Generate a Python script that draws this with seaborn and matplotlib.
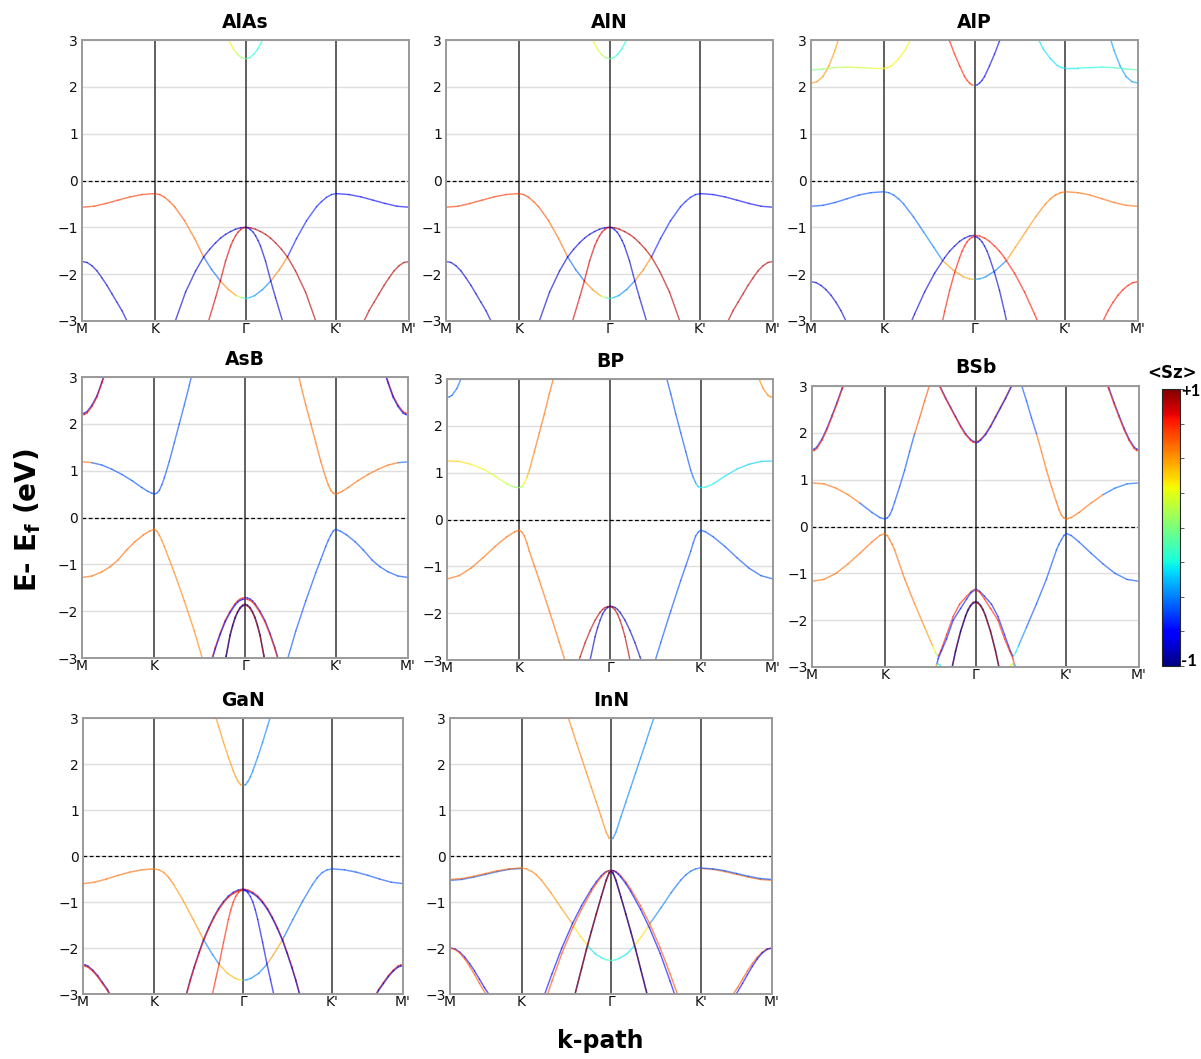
import numpy as np
import matplotlib
matplotlib.use("Agg")
import matplotlib.pyplot as plt
import seaborn as sns
from matplotlib.collections import LineCollection
from matplotlib.colors import Normalize
from matplotlib.cm import ScalarMappable

# ---------------------------------------------------------------- k-path
K_LABELS = ["M", "K", "Γ", "K'", "M'"]
K_TICKS = [0.0, 0.727, 1.637, 2.547, 3.273]
ANCHOR = {"M": 0.0, "K": 0.727, "G": 1.637, "Kp": 2.547, "Mp": 3.273}
E_TICKS = [-3, -2, -1, 0, 1, 2, 3]
DK_MK7 = [0, 0.12, 0.24, 0.36, 0.48, 0.60, 0.727]
DK_MK8 = [0, 0.12, 0.24, 0.36, 0.48, 0.60, 0.68, 0.727]
# piece = (anchor point, direction, k-offsets from anchor, energies, <Sz>, energy split)

# ---------------------------------------------------------------- AlAs / AlN
ALAS_CB_DK = [0, 0.04, 0.08, 0.12, 0.17, 0.2]
ALAS_CB_E = [2.60, 2.62, 2.69, 2.80, 3.0, 3.15]
ALAS_VB_MK_E = [-0.57, -0.55, -0.49, -0.42, -0.35, -0.30, -0.28]
ALAS_VB_KG_DK = [0, 0.05, 0.1, 0.15, 0.2, 0.3, 0.4, 0.49, 0.57, 0.66, 0.74, 0.82, 0.87, 0.91]
ALAS_VB_KG_E = [-0.28, -0.30, -0.36, -0.45, -0.56, -0.86, -1.24, -1.63, -1.90, -2.15, -2.33, -2.46, -2.50, -2.52]
ALAS_VB_SZ_L = [0.7, 0.7, 0.65, 0.65, 0.65, 0.6, 0.6, -0.55, -0.55, 0.55, 0.5, 0.15, -0.1, -0.1]
ALAS_VB_SZ_R = [-0.7, -0.7, -0.7, -0.7, -0.7, -0.7, -0.7, 0.55, 0.55, -0.5, -0.5, -0.4, -0.3, -0.3]
ALAS_WIDE_DK = [0, 0.05, 0.1, 0.15, 0.2, 0.25, 0.3, 0.36, 0.42, 0.5, 0.6, 0.703, 0.76]
ALAS_WIDE_E = [-1.0, -1.01, -1.04, -1.09, -1.15, -1.23, -1.33, -1.47, -1.635, -1.93, -2.38, -3.0, -3.35]
ALAS_NAR_DK = [0, 0.025, 0.05, 0.075, 0.1, 0.125, 0.15, 0.2, 0.253, 0.3, 0.37, 0.42]
ALAS_NAR_E = [-1.0, -1.01, -1.05, -1.10, -1.18, -1.28, -1.40, -1.72, -2.15, -2.50, -3.0, -3.35]
ALAS_MDN_DK = [0, 0.05, 0.1, 0.15, 0.2, 0.25, 0.3, 0.35, 0.4, 0.45, 0.5]
ALAS_MDN_E = [-1.73, -1.75, -1.82, -1.93, -2.08, -2.24, -2.42, -2.60, -2.78, -3.0, -3.25]

ALAS = [
    ("G", -1, ALAS_CB_DK, ALAS_CB_E, [0.05, 0.1, 0.2, 0.3, 0.3, 0.3]),
    ("G", +1, ALAS_CB_DK, ALAS_CB_E, [-0.15, -0.2, -0.25, -0.25, -0.25, -0.25]),
    ("M", +1, DK_MK7, ALAS_VB_MK_E, 0.7),
    ("K", +1, ALAS_VB_KG_DK, ALAS_VB_KG_E, ALAS_VB_SZ_L),
    ("Kp", -1, ALAS_VB_KG_DK, ALAS_VB_KG_E, ALAS_VB_SZ_R),
    ("Mp", -1, DK_MK7, ALAS_VB_MK_E, -0.75),
    ("G", -1, ALAS_WIDE_DK, ALAS_WIDE_E, -0.85),
    ("G", +1, ALAS_WIDE_DK, ALAS_WIDE_E, 0.9),
    ("G", -1, ALAS_NAR_DK, ALAS_NAR_E, 0.85),
    ("G", +1, ALAS_NAR_DK, ALAS_NAR_E, -0.85),
    ("M", +1, ALAS_MDN_DK, ALAS_MDN_E, -0.85),
    ("Mp", -1, ALAS_MDN_DK, ALAS_MDN_E, 0.9),
]
ALN = list(ALAS)

# ---------------------------------------------------------------- AlP
ALP_CM_DK = [0, 0.06, 0.12, 0.18, 0.24, 0.28, 0.31]
ALP_CM_E = [2.08, 2.11, 2.22, 2.45, 2.78, 3.05, 3.2]
ALP_FLAT_E = [2.36, 2.38, 2.41, 2.42, 2.41, 2.40, 2.40]
ALP_FLAT_SZ_L = [0.0, 0.1, 0.15, 0.2, 0.2, 0.25, 0.3]
ALP_FLAT_SZ_R = [-0.1, -0.15, -0.2, -0.25, -0.25, -0.3, -0.3]
ALP_KUP_DK = [0, 0.04, 0.08, 0.15, 0.22, 0.28, 0.32]
ALP_KUP_E = [2.40, 2.41, 2.45, 2.60, 2.80, 3.05, 3.25]
ALP_GC_DK = [0, 0.025, 0.05, 0.075, 0.1, 0.15, 0.2, 0.25, 0.28]
ALP_GC_E = [2.03, 2.04, 2.08, 2.14, 2.22, 2.45, 2.70, 2.98, 3.15]
ALP_VB_MK_E = [-0.55, -0.53, -0.47, -0.39, -0.31, -0.26, -0.24]
ALP_VB_KG_DK = [0, 0.05, 0.1, 0.15, 0.2, 0.3, 0.4, 0.5, 0.59, 0.7, 0.8, 0.86, 0.91]
ALP_VB_KG_E = [-0.24, -0.26, -0.31, -0.39, -0.50, -0.78, -1.10, -1.42, -1.71, -1.92, -2.06, -2.10, -2.11]
ALP_VB_SZ_L = [-0.55, -0.55, -0.55, -0.55, -0.55, -0.55, -0.5, -0.5, 0.5, 0.5, 0.45, 0.45, 0.45]
ALP_VB_SZ_R = [0.6, 0.6, 0.6, 0.55, 0.55, 0.5, 0.5, 0.5, -0.5, -0.5, -0.45, -0.45, -0.45]
ALP_WIDE_DK = [0, 0.05, 0.1, 0.15, 0.2, 0.25, 0.3, 0.4, 0.5, 0.6, 0.63, 0.68]
ALP_WIDE_E = [-1.17, -1.185, -1.23, -1.30, -1.40, -1.51, -1.65, -1.98, -2.38, -2.85, -3.0, -3.3]
ALP_NAR_DK = [0, 0.025, 0.05, 0.075, 0.1, 0.125, 0.15, 0.2, 0.25, 0.3, 0.32, 0.36]
ALP_NAR_E = [-1.20, -1.21, -1.25, -1.31, -1.40, -1.51, -1.65, -1.97, -2.35, -2.80, -3.0, -3.3]
ALP_MDN_DK = [0, 0.05, 0.1, 0.15, 0.2, 0.25, 0.3, 0.35, 0.4]
ALP_MDN_E = [-2.16, -2.18, -2.24, -2.33, -2.45, -2.60, -2.78, -3.0, -3.25]

ALP = [
    ("M", +1, ALP_CM_DK, ALP_CM_E, 0.5),
    ("Mp", -1, ALP_CM_DK, ALP_CM_E, -0.45),
    ("M", +1, DK_MK7, ALP_FLAT_E, ALP_FLAT_SZ_L),
    ("K", +1, ALP_KUP_DK, ALP_KUP_E, 0.3),
    ("Mp", -1, DK_MK7, ALP_FLAT_E, ALP_FLAT_SZ_R),
    ("Kp", -1, ALP_KUP_DK, ALP_KUP_E, -0.3),
    ("G", -1, ALP_GC_DK, ALP_GC_E, [0.5, 0.75, 0.75, 0.75, 0.75, 0.75, 0.75, 0.75, 0.75]),
    ("G", +1, ALP_GC_DK, ALP_GC_E, [-0.6, -0.8, -0.8, -0.8, -0.8, -0.8, -0.8, -0.8, -0.8]),
    ("M", +1, DK_MK7, ALP_VB_MK_E, -0.6),
    ("K", +1, ALP_VB_KG_DK, ALP_VB_KG_E, ALP_VB_SZ_L),
    ("Kp", -1, ALP_VB_KG_DK, ALP_VB_KG_E, ALP_VB_SZ_R),
    ("Mp", -1, DK_MK7, ALP_VB_MK_E, 0.6),
    ("G", -1, ALP_WIDE_DK, ALP_WIDE_E, -0.85),
    ("G", +1, ALP_WIDE_DK, ALP_WIDE_E, 0.78),
    ("G", -1, ALP_NAR_DK, ALP_NAR_E, 0.78),
    ("G", +1, ALP_NAR_DK, ALP_NAR_E, -0.85),
    ("M", +1, ALP_MDN_DK, ALP_MDN_E, -0.85),
    ("Mp", -1, ALP_MDN_DK, ALP_MDN_E, 0.78),
]

# ---------------------------------------------------------------- AsB
ASB_MUP_DK = [0, 0.025, 0.05, 0.1, 0.15, 0.2, 0.23]
ASB_MUP_E = [2.22, 2.23, 2.26, 2.40, 2.60, 2.90, 3.1]
ASB_CB_MK_DK = [0, 0.1, 0.2, 0.3, 0.4, 0.5, 0.6, 0.66, 0.7, 0.727]
ASB_CB_MK_E = [1.19, 1.17, 1.12, 1.03, 0.92, 0.79, 0.64, 0.56, 0.52, 0.50]
ASB_CB_SZ_L = [0.6, -0.6, -0.6, -0.6, -0.6, -0.6, -0.6, -0.6, -0.6, -0.6]
ASB_CB_SZ_R = [-0.55, 0.6, 0.6, 0.6, 0.6, 0.6, 0.6, 0.6, 0.6, 0.6]
ASB_KUP_DK = [0, 0.025, 0.05, 0.075, 0.1, 0.15, 0.2, 0.25, 0.3, 0.35, 0.37, 0.40]
ASB_KUP_E = [0.50, 0.52, 0.58, 0.70, 0.85, 1.20, 1.60, 2.00, 2.40, 2.82, 3.0, 3.25]
ASB_VB_MK_DK = [0, 0.1, 0.2, 0.283, 0.36, 0.45, 0.53, 0.617, 0.68, 0.727]
ASB_VB_MK_E = [-1.28, -1.25, -1.16, -1.05, -0.91, -0.69, -0.52, -0.37, -0.29, -0.25]
ASB_KDN_DK = [0, 0.025, 0.05, 0.075, 0.1, 0.15, 0.2, 0.3, 0.4, 0.48, 0.52]
ASB_KDN_E = [-0.25, -0.29, -0.38, -0.49, -0.62, -0.90, -1.18, -1.78, -2.42, -3.0, -3.3]
ASB_GW_DK = [0, 0.025, 0.05, 0.075, 0.1, 0.15, 0.2, 0.25, 0.3, 0.33, 0.37]
ASB_GW_E = [-1.71, -1.72, -1.74, -1.78, -1.84, -2.0, -2.2, -2.47, -2.78, -3.0, -3.3]
ASB_GN_DK = [0, 0.025, 0.05, 0.075, 0.1, 0.125, 0.15, 0.19, 0.21]
ASB_GN_E = [-1.85, -1.87, -1.92, -2.01, -2.13, -2.30, -2.5, -2.95, -3.2]

ASB = [
    ("M", +1, ASB_MUP_DK, ASB_MUP_E, -0.8),
    ("M", +1, ASB_MUP_DK, ASB_MUP_E, 0.8, -0.03),
    ("Mp", -1, ASB_MUP_DK, ASB_MUP_E, 0.8),
    ("Mp", -1, ASB_MUP_DK, ASB_MUP_E, -0.8, -0.03),
    ("M", +1, ASB_CB_MK_DK, ASB_CB_MK_E, ASB_CB_SZ_L),
    ("K", +1, ASB_KUP_DK, ASB_KUP_E, -0.6),
    ("Kp", -1, ASB_KUP_DK, ASB_KUP_E, 0.6),
    ("Mp", -1, ASB_CB_MK_DK, ASB_CB_MK_E, ASB_CB_SZ_R),
    ("M", +1, ASB_VB_MK_DK, ASB_VB_MK_E, 0.6),
    ("K", +1, ASB_KDN_DK, ASB_KDN_E, 0.55),
    ("Kp", -1, ASB_KDN_DK, ASB_KDN_E, -0.6),
    ("Mp", -1, ASB_VB_MK_DK, ASB_VB_MK_E, -0.6),
    ("G", -1, ASB_GW_DK, ASB_GW_E, 0.75),
    ("G", +1, ASB_GW_DK, ASB_GW_E, -0.75),
    ("G", -1, ASB_GW_DK, ASB_GW_E, -0.75, -0.03),
    ("G", +1, ASB_GW_DK, ASB_GW_E, 0.75, -0.03),
    ("G", -1, ASB_GN_DK, ASB_GN_E, 0.95),
    ("G", +1, ASB_GN_DK, ASB_GN_E, -0.95),
    ("G", -1, ASB_GN_DK, ASB_GN_E, -0.95, -0.02),
    ("G", +1, ASB_GN_DK, ASB_GN_E, 0.95, -0.02),
]

# ---------------------------------------------------------------- BP
BP_MUP_DK = [0, 0.025, 0.05, 0.1, 0.14, 0.17]
BP_MUP_E = [2.61, 2.62, 2.65, 2.80, 3.0, 3.15]
BP_CB_MK_E = [1.25, 1.24, 1.18, 1.08, 0.93, 0.76, 0.69, 0.68]
BP_CB_SZ_L = [0.4, 0.35, 0.3, 0.25, 0.2, 0.1, 0.05, 0.05]
BP_CB_SZ_R = [-0.35, -0.35, -0.35, -0.3, -0.3, -0.25, -0.25, -0.25]
BP_KUP_DK = [0, 0.025, 0.05, 0.075, 0.1, 0.15, 0.2, 0.25, 0.3, 0.34, 0.37]
BP_KUP_E = [0.68, 0.70, 0.78, 0.90, 1.05, 1.45, 1.85, 2.25, 2.68, 3.0, 3.25]
BP_KUP_SZ_L = [0.05, 0.2, 0.3, 0.45, 0.55, 0.6, 0.6, 0.6, 0.6, 0.6, 0.6]
BP_KUP_SZ_R = [-0.3, -0.4, -0.5, -0.55, -0.6, -0.6, -0.6, -0.6, -0.6, -0.6, -0.6]
BP_VB_MK_E = [-1.27, -1.20, -1.04, -0.82, -0.58, -0.37, -0.26, -0.23]
BP_KDN_DK = [0, 0.025, 0.05, 0.075, 0.1, 0.15, 0.2, 0.3, 0.4, 0.455, 0.5]
BP_KDN_E = [-0.23, -0.27, -0.35, -0.50, -0.68, -0.99, -1.30, -1.95, -2.62, -3.0, -3.3]
BP_GW_DK = [0, 0.025, 0.05, 0.075, 0.1, 0.15, 0.2, 0.25, 0.3, 0.32, 0.35]
BP_GW_E = [-1.85, -1.86, -1.88, -1.92, -1.98, -2.15, -2.37, -2.63, -2.93, -3.05, -3.25]
BP_GN_DK = [0, 0.025, 0.05, 0.075, 0.1, 0.125, 0.15, 0.2, 0.22]
BP_GN_E = [-1.86, -1.88, -1.93, -2.02, -2.15, -2.31, -2.5, -3.0, -3.2]

BP = [
    ("M", +1, BP_MUP_DK, BP_MUP_E, -0.55),
    ("Mp", -1, BP_MUP_DK, BP_MUP_E, 0.55),
    ("M", +1, DK_MK8, BP_CB_MK_E, BP_CB_SZ_L),
    ("K", +1, BP_KUP_DK, BP_KUP_E, BP_KUP_SZ_L),
    ("Kp", -1, BP_KUP_DK, BP_KUP_E, BP_KUP_SZ_R),
    ("Mp", -1, DK_MK8, BP_CB_MK_E, BP_CB_SZ_R),
    ("M", +1, DK_MK8, BP_VB_MK_E, 0.6),
    ("K", +1, BP_KDN_DK, BP_KDN_E, 0.6),
    ("Kp", -1, BP_KDN_DK, BP_KDN_E, -0.6),
    ("Mp", -1, DK_MK8, BP_VB_MK_E, -0.6),
    ("G", -1, BP_GW_DK, BP_GW_E, 0.9),
    ("G", +1, BP_GW_DK, BP_GW_E, -0.9),
    ("G", -1, BP_GN_DK, BP_GN_E, -0.9),
    ("G", +1, BP_GN_DK, BP_GN_E, 0.9),
]

# ---------------------------------------------------------------- BSb
BSB_MUP_DK = [0, 0.025, 0.05, 0.1, 0.15, 0.2, 0.25, 0.3, 0.32, 0.35]
BSB_MUP_E = [1.64, 1.655, 1.70, 1.87, 2.10, 2.37, 2.65, 2.95, 3.05, 3.2]
BSB_CB_MK_E = [0.93, 0.91, 0.82, 0.68, 0.50, 0.30, 0.19, 0.16]
BSB_CB_SZ_L = [0.6, 0.6, 0.6, 0.6, -0.6, -0.6, -0.6, -0.6]
BSB_CB_SZ_R = [-0.55, -0.55, -0.55, 0.6, 0.6, 0.6, 0.6, 0.6]
BSB_KUP_DK = [0, 0.025, 0.05, 0.075, 0.1, 0.15, 0.2, 0.25, 0.3, 0.35, 0.4, 0.447, 0.48]
BSB_KUP_E = [0.16, 0.18, 0.24, 0.36, 0.52, 0.85, 1.20, 1.60, 1.98, 2.32, 2.68, 3.0, 3.22]
BSB_KUP_SZ_L = [-0.6, -0.6, -0.6, -0.6, -0.6, -0.6, -0.6, -0.6, 0.65, 0.65, 0.65, 0.65, 0.65]
BSB_KUP_SZ_R = [0.6, 0.6, 0.6, 0.6, 0.6, 0.6, 0.6, 0.6, -0.6, -0.6, -0.6, -0.6, -0.6]
BSB_GC_DK = [0, 0.025, 0.05, 0.1, 0.15, 0.2, 0.25, 0.3, 0.357, 0.39]
BSB_GC_E = [1.81, 1.82, 1.86, 1.98, 2.15, 2.35, 2.55, 2.75, 3.0, 3.12]
BSB_VB_MK_E = [-1.17, -1.13, -1.00, -0.80, -0.57, -0.33, -0.19, -0.15]
BSB_VB_KG_DK = [0, 0.025, 0.05, 0.075, 0.1, 0.2, 0.3, 0.4, 0.48, 0.51, 0.536, 0.56, 0.58,
                0.62, 0.686, 0.75, 0.82, 0.87, 0.91]
BSB_VB_KG_E = [-0.15, -0.19, -0.28, -0.38, -0.50, -1.12, -1.65, -2.15, -2.55, -2.70, -2.77,
               -2.67, -2.55, -2.31, -1.92, -1.66, -1.49, -1.38, -1.33]
BSB_VB_SZ_L = [0.6, 0.6, 0.6, 0.6, 0.6, 0.6, 0.55, 0.5, 0.3, 0.1, 0.75, 0.75, 0.75,
               0.75, 0.75, 0.75, 0.7, 0.65, 0.6]
BSB_VB_SZ_R = [-0.6, -0.6, -0.6, -0.6, -0.6, -0.6, -0.6, -0.5, -0.3, -0.2, -0.7, -0.7, -0.7,
               -0.7, -0.7, -0.7, -0.7, -0.65, -0.6]
BSB_VB2_DK = [0, 0.045, 0.09, 0.15, 0.224, 0.29, 0.34, 0.374, 0.40]
BSB_VB2_E = [-1.35, -1.41, -1.55, -1.75, -2.00, -2.40, -2.65, -2.82, -3.05]
BSB_GN_DK = [0, 0.025, 0.05, 0.075, 0.1, 0.15, 0.2, 0.235, 0.26]
BSB_GN_E = [-1.60, -1.62, -1.68, -1.77, -1.90, -2.23, -2.65, -3.0, -3.25]
BSB_ARC_DK = [0.49, 0.515, 0.536, 0.555, 0.58]
BSB_ARC_E = [-3.1, -2.96, -2.93, -2.96, -3.1]

BSB = [
    ("M", +1, BSB_MUP_DK, BSB_MUP_E, -0.7),
    ("M", +1, BSB_MUP_DK, BSB_MUP_E, 0.75, -0.03),
    ("Mp", -1, BSB_MUP_DK, BSB_MUP_E, -0.7),
    ("Mp", -1, BSB_MUP_DK, BSB_MUP_E, 0.75, -0.03),
    ("M", +1, DK_MK8, BSB_CB_MK_E, BSB_CB_SZ_L),
    ("K", +1, BSB_KUP_DK, BSB_KUP_E, BSB_KUP_SZ_L),
    ("Kp", -1, BSB_KUP_DK, BSB_KUP_E, BSB_KUP_SZ_R),
    ("Mp", -1, DK_MK8, BSB_CB_MK_E, BSB_CB_SZ_R),
    ("G", -1, BSB_GC_DK, BSB_GC_E, -0.7),
    ("G", +1, BSB_GC_DK, BSB_GC_E, 0.75),
    ("G", -1, BSB_GC_DK, BSB_GC_E, 0.75, -0.02),
    ("G", +1, BSB_GC_DK, BSB_GC_E, -0.7, -0.02),
    ("M", +1, DK_MK8, BSB_VB_MK_E, 0.6),
    ("K", +1, BSB_VB_KG_DK, BSB_VB_KG_E, BSB_VB_SZ_L),
    ("Kp", -1, BSB_VB_KG_DK, BSB_VB_KG_E, BSB_VB_SZ_R),
    ("Mp", -1, DK_MK8, BSB_VB_MK_E, -0.6),
    ("G", -1, BSB_VB2_DK, BSB_VB2_E, -0.7),
    ("G", +1, BSB_VB2_DK, BSB_VB2_E, 0.75),
    ("G", -1, BSB_GN_DK, BSB_GN_E, 0.95),
    ("G", +1, BSB_GN_DK, BSB_GN_E, -0.95),
    ("G", -1, BSB_GN_DK, BSB_GN_E, -0.95, -0.02),
    ("G", +1, BSB_GN_DK, BSB_GN_E, 0.95, -0.02),
    ("K", +1, BSB_ARC_DK, BSB_ARC_E, [0.3, 0.3, -0.3, -0.3, -0.3]),
    ("Kp", -1, BSB_ARC_DK, BSB_ARC_E, [-0.3, -0.3, 0.3, 0.3, 0.3]),
]

# ---------------------------------------------------------------- GaN
GAN_GC_DK = [0, 0.025, 0.05, 0.075, 0.1, 0.15, 0.2, 0.25, 0.276, 0.3]
GAN_GC_E = [1.53, 1.55, 1.62, 1.72, 1.85, 2.15, 2.47, 2.82, 3.0, 3.15]
GAN_VB_MK_E = [-0.60, -0.57, -0.50, -0.42, -0.35, -0.30, -0.28]
GAN_VB_KG_DK = [0, 0.05, 0.1, 0.15, 0.2, 0.3, 0.4, 0.506, 0.6, 0.667, 0.75, 0.83, 0.87, 0.91]
GAN_VB_KG_E = [-0.28, -0.30, -0.36, -0.47, -0.62, -0.98, -1.38, -1.82, -2.15, -2.36, -2.55, -2.66, -2.69, -2.70]
GAN_VB_SZ_L = [0.55, 0.55, 0.55, 0.55, 0.5, 0.5, 0.5, -0.5, -0.5, 0.45, 0.45, 0.4, 0.3, 0.2]
GAN_VB_SZ_R = [-0.55, -0.55, -0.55, -0.55, -0.55, -0.55, -0.55, 0.5, 0.5, -0.5, -0.5, -0.45, -0.45, -0.4]
GAN_GW_DK = [0, 0.05, 0.1, 0.15, 0.2, 0.25, 0.3, 0.35, 0.405, 0.45, 0.5, 0.54, 0.58, 0.62]
GAN_GW_E = [-0.72, -0.74, -0.79, -0.87, -0.99, -1.14, -1.33, -1.55, -1.82, -2.09, -2.41, -2.69, -3.0, -3.3]
GAN_GN_DK = [0, 0.025, 0.05, 0.075, 0.1, 0.125, 0.15, 0.2, 0.243, 0.28, 0.313, 0.34]
GAN_GN_E = [-0.72, -0.74, -0.80, -0.88, -1.00, -1.17, -1.38, -1.88, -2.33, -2.68, -3.0, -3.25]
GAN_MDN_DK = [0, 0.025, 0.05, 0.1, 0.15, 0.2, 0.25, 0.28, 0.32]
GAN_MDN_E = [-2.36, -2.37, -2.39, -2.48, -2.60, -2.75, -2.90, -3.02, -3.2]

GAN = [
    ("G", -1, GAN_GC_DK, GAN_GC_E, 0.5),
    ("G", +1, GAN_GC_DK, GAN_GC_E, -0.5),
    ("M", +1, DK_MK7, GAN_VB_MK_E, 0.6),
    ("K", +1, GAN_VB_KG_DK, GAN_VB_KG_E, GAN_VB_SZ_L),
    ("Kp", -1, GAN_VB_KG_DK, GAN_VB_KG_E, GAN_VB_SZ_R),
    ("Mp", -1, DK_MK7, GAN_VB_MK_E, -0.6),
    ("G", -1, GAN_GW_DK, GAN_GW_E, -0.85),
    ("G", +1, GAN_GW_DK, GAN_GW_E, 0.8),
    ("G", -1, GAN_GW_DK, GAN_GW_E, 0.8, -0.025),
    ("G", +1, GAN_GW_DK, GAN_GW_E, -0.85, -0.025),
    ("G", -1, GAN_GN_DK, GAN_GN_E, 0.75),
    ("G", +1, GAN_GN_DK, GAN_GN_E, -0.8),
    ("M", +1, GAN_MDN_DK, GAN_MDN_E, -0.85),
    ("M", +1, GAN_MDN_DK, GAN_MDN_E, 0.8, -0.025),
    ("Mp", -1, GAN_MDN_DK, GAN_MDN_E, 0.8),
    ("Mp", -1, GAN_MDN_DK, GAN_MDN_E, -0.85, -0.025),
]

# ---------------------------------------------------------------- InN
INN_GC_DK = [0, 0.02, 0.05, 0.1, 0.15, 0.2, 0.25, 0.3, 0.35, 0.4, 0.435, 0.47]
INN_GC_E = [0.36, 0.39, 0.52, 0.85, 1.17, 1.49, 1.81, 2.13, 2.45, 2.78, 3.0, 3.22]
INN_VB_MK_E1 = [-0.51, -0.49, -0.44, -0.38, -0.32, -0.28, -0.26]
INN_VB_MK_E2 = [-0.53, -0.51, -0.46, -0.40, -0.34, -0.29, -0.27]
INN_VB_KG_DK = [0, 0.05, 0.1, 0.15, 0.2, 0.3, 0.4, 0.512, 0.6, 0.68, 0.75, 0.83, 0.87, 0.91]
INN_VB_KG_E = [-0.26, -0.28, -0.33, -0.41, -0.52, -0.80, -1.12, -1.46, -1.75, -1.97, -2.13, -2.23, -2.26, -2.27]
INN_VB_SZ_L = [0.55, 0.55, 0.55, 0.55, 0.55, 0.5, 0.5, 0.35, 0.35, -0.3, -0.3, -0.2, -0.1, -0.1]
INN_VB_SZ_R = [-0.55, -0.55, -0.55, -0.55, -0.55, -0.5, -0.5, 0.35, 0.35, -0.3, -0.3, -0.25, -0.2, -0.2]
INN_GW1_DK = [0, 0.025, 0.05, 0.075, 0.1, 0.15, 0.2, 0.3, 0.39, 0.5, 0.6, 0.674, 0.72]
INN_GW1_E = [-0.31, -0.32, -0.34, -0.38, -0.43, -0.56, -0.72, -1.08, -1.46, -2.0, -2.56, -3.0, -3.3]
INN_GW2_DK = [0, 0.025, 0.05, 0.075, 0.1, 0.15, 0.2, 0.3, 0.39, 0.5, 0.6, 0.645, 0.69]
INN_GW2_E = [-0.31, -0.32, -0.35, -0.40, -0.46, -0.60, -0.77, -1.16, -1.56, -2.12, -2.72, -3.0, -3.3]
INN_GN_DK = [0, 0.02, 0.05, 0.1, 0.15, 0.2, 0.25, 0.3, 0.367, 0.4]
INN_GN_E = [-0.32, -0.36, -0.52, -0.88, -1.25, -1.63, -2.02, -2.44, -3.0, -3.28]
INN_MDN1_DK = [0, 0.05, 0.1, 0.15, 0.2, 0.25, 0.3, 0.35, 0.4, 0.43]
INN_MDN1_E = [-2.0, -2.02, -2.09, -2.2, -2.34, -2.5, -2.68, -2.86, -3.02, -3.15]
INN_MDN2_DK = [0, 0.05, 0.1, 0.15, 0.2, 0.25, 0.3, 0.364, 0.4]
INN_MDN2_E = [-2.0, -2.03, -2.11, -2.24, -2.40, -2.58, -2.77, -3.0, -3.15]

INN = [
    ("G", -1, INN_GC_DK, INN_GC_E, 0.55),
    ("G", +1, INN_GC_DK, INN_GC_E, -0.5),
    ("M", +1, DK_MK7, INN_VB_MK_E2, -0.6),
    ("M", +1, DK_MK7, INN_VB_MK_E1, 0.6),
    ("K", +1, INN_VB_KG_DK, INN_VB_KG_E, INN_VB_SZ_L),
    ("Kp", -1, INN_VB_KG_DK, INN_VB_KG_E, INN_VB_SZ_R),
    ("Mp", -1, DK_MK7, INN_VB_MK_E2, 0.6),
    ("Mp", -1, DK_MK7, INN_VB_MK_E1, -0.6),
    ("G", -1, INN_GW1_DK, INN_GW1_E, -0.75),
    ("G", +1, INN_GW1_DK, INN_GW1_E, 0.65),
    ("G", -1, INN_GW2_DK, INN_GW2_E, 0.65),
    ("G", +1, INN_GW2_DK, INN_GW2_E, -0.75),
    ("G", -1, INN_GN_DK, INN_GN_E, -0.95),
    ("G", +1, INN_GN_DK, INN_GN_E, 0.95),
    ("G", -1, INN_GN_DK, INN_GN_E, 0.95, -0.02),
    ("G", +1, INN_GN_DK, INN_GN_E, -0.95, -0.02),
    ("M", +1, INN_MDN1_DK, INN_MDN1_E, -0.75),
    ("M", +1, INN_MDN2_DK, INN_MDN2_E, 0.65),
    ("Mp", -1, INN_MDN1_DK, INN_MDN1_E, 0.65),
    ("Mp", -1, INN_MDN2_DK, INN_MDN2_E, -0.75),
]

MATERIALS = ["AlAs", "AlN", "AlP", "AsB", "BP", "BSb", "GaN", "InN"]
PIECES = [ALAS, ALN, ALP, ASB, BP, BSB, GAN, INN]

# ---------------------------------------------------------------- style
sns.set_theme(style="white")
plt.rcParams["font.family"] = ["DejaVu Sans"]
plt.rcParams["axes.unicode_minus"] = True
plt.rcParams["text.color"] = "black"
CMAP = matplotlib.colormaps["jet"]
NORM = Normalize(vmin=-1, vmax=1)

W, H = 1201, 1059
fig = plt.figure(figsize=(W / 100, H / 100), dpi=100)

# axes boxes in pixels: left, top, right, bottom
BOXES = [
    (82, 40, 409, 321), (446, 40, 773, 321), (811, 40, 1138, 321),
    (82, 377, 408, 658), (447, 379, 773, 660), (812, 386, 1139, 667),
    (83, 718, 403, 994), (450, 718, 772, 994),
]


def draw_piece(ax, piece):
    anchor, direction, dk, energies, sz = piece[:5]
    split = piece[5] if len(piece) > 5 else 0.0
    x = ANCHOR[anchor] + direction * np.asarray(dk, float)
    y = np.asarray(energies, float) + split
    s = np.broadcast_to(np.asarray(sz, float), y.shape)
    pts = np.column_stack([x, y])
    segs = np.stack([pts[:-1], pts[1:]], axis=1)
    lc = LineCollection(segs, cmap=CMAP, norm=NORM, alpha=0.62,
                        linewidths=1.05, capstyle="round", joinstyle="round")
    lc.set_array(s[:-1])
    ax.add_collection(lc)


for name, pieces, (l, t, r, b) in zip(MATERIALS, PIECES, BOXES):
    ax = fig.add_axes([l / W, 1 - b / H, (r - l) / W, (b - t) / H])
    ax.set_xlim(K_TICKS[0], K_TICKS[-1])
    ax.set_ylim(-3, 3)
    ax.yaxis.grid(True, color="#dedede", lw=1.0)
    ax.xaxis.grid(False)
    for xv in K_TICKS[1:-1]:
        ax.axvline(xv, color="#111111", lw=1.1, alpha=0.85, zorder=1)
    ax.axhline(0, color="black", lw=0.9, ls=(0, (3, 2)), zorder=1)
    for p in pieces:
        draw_piece(ax, p)
    ax.set_xticks(K_TICKS)
    ax.set_xticklabels(K_LABELS)
    ax.set_yticks(E_TICKS)
    ax.tick_params(axis="both", length=0, labelsize=10, colors="#111111")
    ax.tick_params(axis="x", pad=1)
    ax.tick_params(axis="y", pad=3)
    for sp in ax.spines.values():
        sp.set_color("#9a9a9a")
        sp.set_linewidth(1.4)
    ax.set_title(name, fontsize=13.5, fontweight="bold", pad=9, color="black")

# colour bar
cax = fig.add_axes([1162 / W, 1 - 666 / H, 18 / W, 277 / H])
cb = fig.colorbar(ScalarMappable(norm=NORM, cmap=CMAP), cax=cax)
cb.set_ticks([-1, -0.75, -0.5, -0.25, 0, 0.25, 0.5, 0.75, 1])
cb.ax.set_yticklabels([])
cb.ax.tick_params(length=3, width=0.6, colors="#444444")
cb.outline.set_linewidth(0.8)
fig.text(1172 / W, 1 - 373 / H, "<Sz>", ha="center", va="center",
         fontsize=12, fontweight="bold")
fig.text(1181 / W, 1 - 391 / H, "+1", ha="left", va="center",
         fontsize=12, fontweight="bold", family=["Lato", "DejaVu Sans"])
fig.text(1181 / W, 1 - 661 / H, "-1", ha="left", va="center",
         fontsize=12, fontweight="bold", family=["Lato", "DejaVu Sans"])

fig.text(28 / W, 1 - 520 / H, r"E- E$_{\mathbf{f}}$ (eV)", rotation=90,
         ha="center", va="center", fontsize=20, fontweight="bold")
fig.text(600 / W, 1 - 1041 / H, "k-path", ha="center", va="center",
         fontsize=17, fontweight="bold")

fig.savefig("out.png", dpi=100)
